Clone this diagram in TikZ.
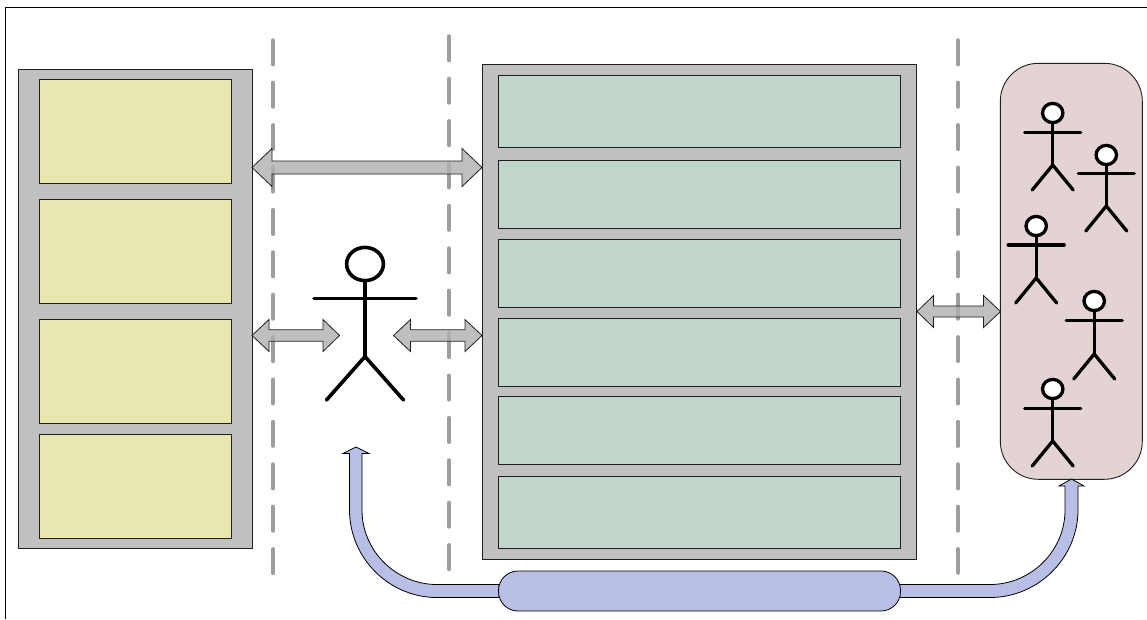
\documentclass[tikz,border=0pt]{standalone}
\usetikzlibrary{calc}
\definecolor{panelgray}{HTML}{C0C0C0}
\definecolor{arrowgray}{HTML}{B0B0B0}
\definecolor{boxyellow}{HTML}{E8E7B0}
\definecolor{boxgreen}{HTML}{C1D6CB}
\definecolor{boxpink}{HTML}{E3D3D3}
\definecolor{boxblue}{HTML}{B8BEE5}
\definecolor{dashgray}{HTML}{9E9E9E}
\tikzset{
  x=1pt,y=-1pt,
  outline/.style={draw=black!88,line width=0.9pt},
  panel/.style={outline,fill=panelgray},
  yellowbox/.style={outline,fill=boxyellow},
  greenbox/.style={outline,fill=boxgreen},
  pinkpanel/.style={outline,fill=boxpink},
  bluearrow/.style={draw=black,line width=0.8pt,fill=boxblue},
  grayarrow/.style={draw=black!88,line width=0.8pt,fill=arrowgray,fill opacity=0.8},
  divider/.style={draw=dashgray,line width=3.4pt,line cap=round,dash pattern=on 24.6pt off 17.8pt},
  stickline/.style={draw=black,line cap=round,line width=3.3pt},
  bigstick/.style={stickline,line width=3.6pt},
}
% rectangle node by pixel corners: name, style, x1, y1, x2, y2
\newcommand{\pxbox}[6]{\node[#2,rectangle,inner sep=0pt,outer sep=0pt,minimum width=#5pt-#3pt,minimum height=#6pt-#4pt,anchor=north west] (#1) at (#3,#4) {};}
% double-headed horizontal arrow: from, to, shaft half, head half, head length left, head length right
\newcommand{\dblarrow}[6]{%
  \path[grayarrow] let \p1=(#1), \p2=(#2) in
    (\x1,\y1) -- ++(#5,-#4) -- ++(0,#4-#3) -- (\x2-#6pt,\y2+#3pt) -- ++(0,#3-#4) -- (\x2,\y2)
    -- (\x2-#6pt,\y2-#4pt) -- ++(0,#3-#4) -- (\x1+#5pt,\y1-#3pt) -- ++(0,#4-#3) -- cycle;}
% stick figure: head centre x,y, rx, ry, arm half, arm y, hip y, leg half, foot y
\newcommand{\stickman}[9]{%
  \begin{scope}[stickline,\stickstyle]
  \draw[fill=white] (#1,#2) ellipse [x radius=#3,y radius=#4];
  \draw (#1,#2+#4) -- (#1,#7);
  \draw (#1-#5,#6) -- (#1+#5,#6);
  \draw (#1-#8,#9) -- (#1,#7) -- (#1+#8,#9);
  \end{scope}}
\newcommand{\stickstyle}{}
\begin{document}
\begin{tikzpicture}
\useasboundingbox (0,0) rectangle (1147,619);
\fill[white] (0,0) rectangle (1147,619);
% frame
\draw[black,line width=0.8pt] (1147,7.5) -- (5.5,7.5) -- (5.5,619);
% left panel
\pxbox{leftpanel}{panel}{18.5}{69.5}{252.5}{548.5}
\pxbox{y1}{yellowbox}{39.5}{79.5}{231.5}{183.5}
\pxbox{y2}{yellowbox}{39.5}{199.5}{231.5}{303.5}
\pxbox{y3}{yellowbox}{39.5}{319.5}{231.5}{423.5}
\pxbox{y4}{yellowbox}{39.5}{434.5}{231.5}{538.5}
% centre panel
\pxbox{midpanel}{panel}{482.5}{64.5}{916.5}{559}
\pxbox{g1}{greenbox}{498.5}{75.5}{900.5}{147.5}
\pxbox{g2}{greenbox}{498.5}{160.5}{900.5}{228.5}
\pxbox{g3}{greenbox}{498.5}{239.5}{900.5}{307.5}
\pxbox{g4}{greenbox}{498.5}{318.5}{900.5}{386.5}
\pxbox{g5}{greenbox}{498.5}{396.5}{900.5}{464.5}
\pxbox{g6}{greenbox}{498.5}{476.5}{900.5}{548.5}
% people panel
\node[pinkpanel,rectangle,rounded corners=38pt,inner sep=0pt,outer sep=0pt,minimum width=142pt,minimum height=416pt,anchor=north west] (people) at (1000.3,63.3) {};
% dividers
\coordinate (d1a) at (273,40); \coordinate (d1b) at (273,575);
\coordinate (d2a) at (449,36); \coordinate (d2b) at (449,570);
\coordinate (d3a) at (958,40); \coordinate (d3b) at (958,573);
\draw[divider] (d1a) -- (d1b);
\draw[divider] (d2a) -- (d2b);
\draw[divider] (d3a) -- (d3b);
% blue curved arrows
\path[bluearrow] (499,584.5) -- (437,584.5) .. controls (396,584.5) and (362,551) .. (362,510) -- (362,453.5) -- (369,453.5) -- (356,447) -- (343,453.5) -- (349.5,453.5) -- (349.5,510) .. controls (349.5,558) and (389,597.5) .. (437,597.5) -- (499,597.5) -- cycle;
\path[bluearrow] (899,584.5) -- (990,584.5) .. controls (1031,584.5) and (1065,551) .. (1065,510) -- (1065,486) -- (1059,486) -- (1071.5,479) -- (1084,486) -- (1078,486) -- (1078,510) .. controls (1078,558) and (1038,597.5) .. (990,597.5) -- (899,597.5) -- cycle;
\node[bluearrow,rectangle,rounded corners=19.5pt,inner sep=0pt,outer sep=0pt,minimum width=402pt,minimum height=40pt,anchor=north west] (pill) at (498.5,571) {};
% coordinates for gray arrows
\coordinate (a1l) at (252,167.5); \coordinate (a1r) at (482,167.5);
\coordinate (a2l) at (252,335.5); \coordinate (a2r) at (339.5,335.5);
\coordinate (a3l) at (393.5,335.5); \coordinate (a3r) at (482,335.5);
\coordinate (a4l) at (917,311.5); \coordinate (a4r) at (1000.5,311.5);
\dblarrow{a1l}{a1r}{6.5}{19}{20}{20}
\dblarrow{a2l}{a2r}{5.7}{16}{17}{16.5}
\dblarrow{a3l}{a3r}{5.7}{16}{17}{17}
\dblarrow{a4l}{a4r}{5.5}{16}{16.5}{17}
% actors
\renewcommand{\stickstyle}{bigstick}
\stickman{365}{264}{18.4}{16.6}{51}{298.3}{356.5}{38.5}{400}
\renewcommand{\stickstyle}{}
\stickman{1052.7}{113}{10.2}{9.6}{28}{132.2}{165}{20.5}{190}
\stickman{1106.3}{155}{10.2}{9.6}{28}{173.7}{206}{20.5}{231}
\stickman{1036.2}{226}{10.2}{9.6}{28}{245}{278}{20.5}{303}
\stickman{1094.2}{301}{10.2}{9.6}{28}{320.3}{354}{20.5}{379}
\stickman{1052.7}{389}{10.2}{9.6}{28}{408.5}{441}{20.5}{466}
\end{tikzpicture}
\end{document}
